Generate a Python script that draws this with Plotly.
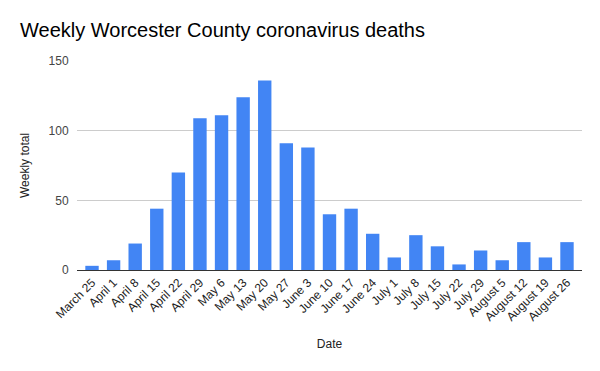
import plotly.graph_objects as go

dates = ["March 25", "April 1", "April 8", "April 15", "April 22", "April 29",
         "May 6", "May 13", "May 20", "May 27", "June 3", "June 10", "June 17",
         "June 24", "July 1", "July 8", "July 15", "July 22", "July 29",
         "August 5", "August 12", "August 19", "August 26"]
deaths = [3, 7, 19, 44, 70, 109, 111, 124, 136, 91, 88, 40, 44, 26, 9, 25, 17,
          4, 14, 7, 20, 9, 20]
y_ticks = [0, 50, 100, 150]

fig = go.Figure(go.Bar(
    x=dates, y=deaths, marker=dict(color="#4285F4", line=dict(width=0)),
))
fig.update_layout(
    width=600, height=371,
    margin=dict(l=69, r=26, t=53, b=109, autoexpand=False),
    paper_bgcolor="white", plot_bgcolor="white",
    font=dict(family="Liberation Sans, Arial, sans-serif", color="#222222", size=12),
    title=dict(text="Weekly Worcester County coronavirus deaths",
               x=0.02, xanchor="left", y=0.94, yanchor="middle",
               font=dict(size=20, color="#000000")),
    bargap=0.38,
    showlegend=False,
)
fig.update_xaxes(
    title=dict(text="Date", font=dict(size=12, color="#222222"), standoff=16),
    tickangle=-45, tickfont=dict(size=12, color="#222222"),
    range=[-0.695, len(dates) - 1 + 0.695],
    showgrid=False, showline=True, linecolor="#333333", linewidth=1,
    ticks="",
)
fig.update_yaxes(
    title=dict(text="Weekly total", font=dict(size=12, color="#222222"), standoff=16),
    range=[0, 150], tickvals=y_ticks, tickfont=dict(size=12, color="#444444"),
    showgrid=True, gridcolor="#cccccc", gridwidth=1, zeroline=False,
    ticks="outside", ticklen=5, tickcolor="rgba(0,0,0,0)",
)
fig.write_html("out.html")
